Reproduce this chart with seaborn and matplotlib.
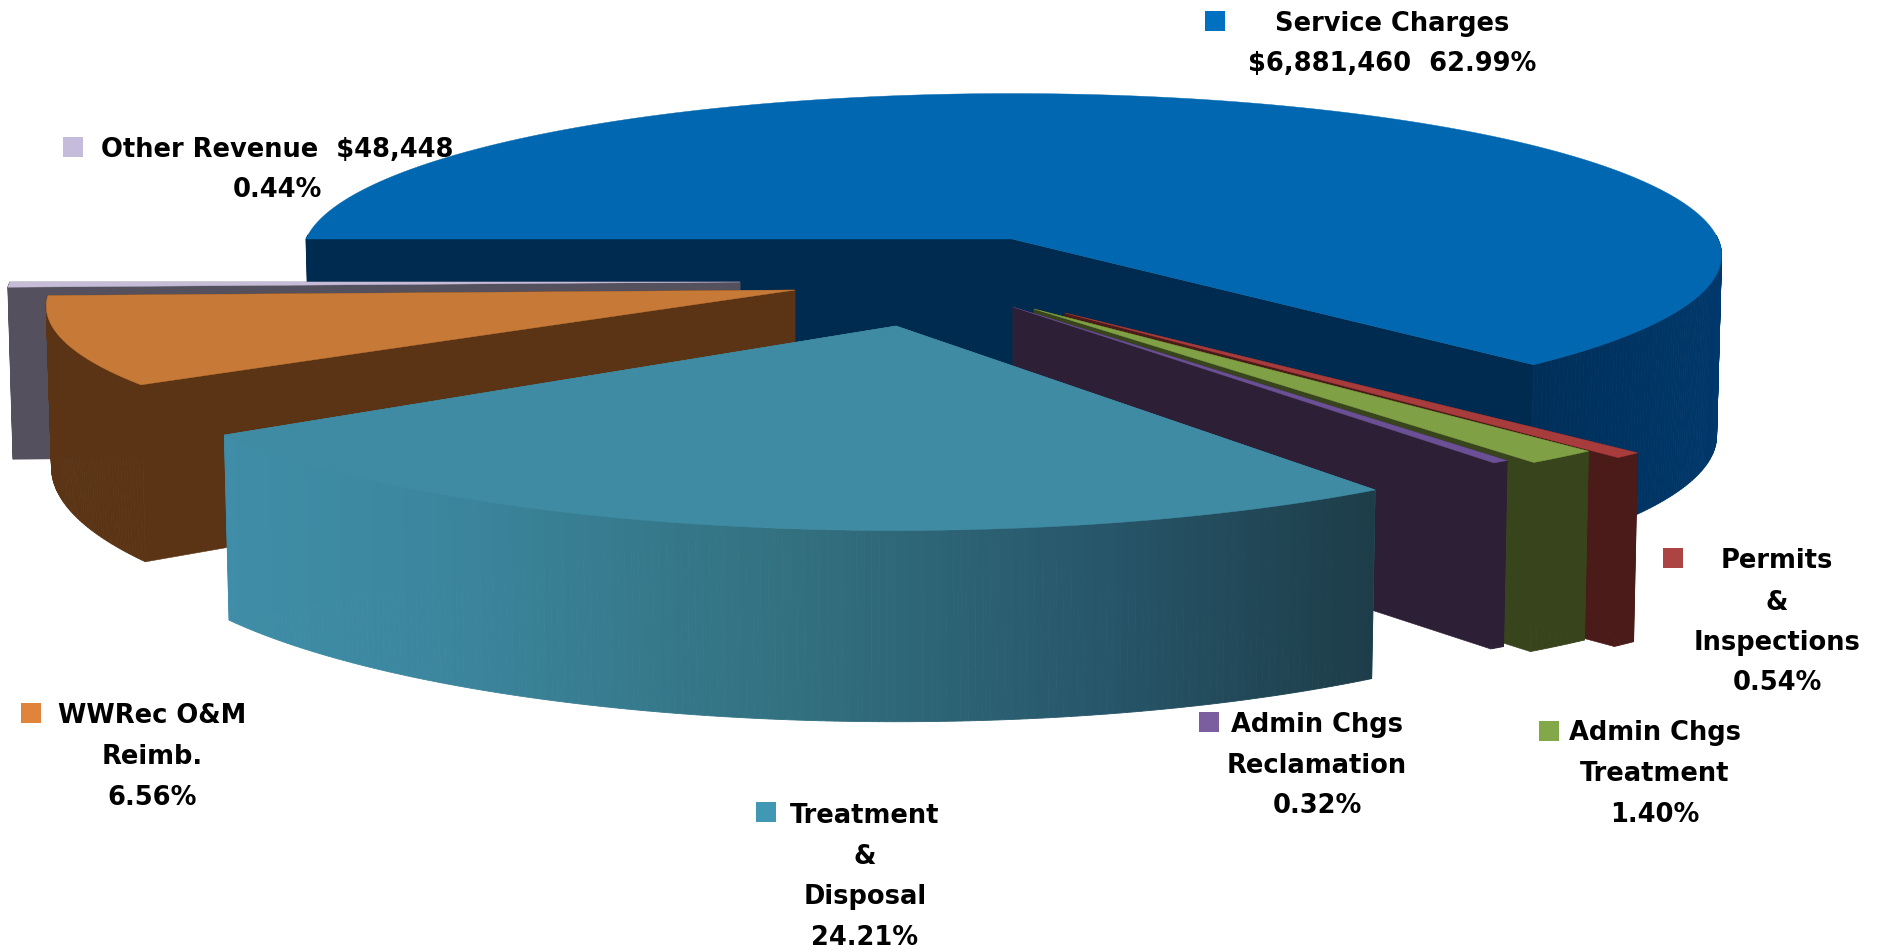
import numpy as np
import pandas as pd
import matplotlib
matplotlib.use("Agg")
import matplotlib.pyplot as plt
from matplotlib.colors import to_rgb
import seaborn as sns

# ---- data -------------------------------------------------------------
categories = ["Service Charges", "Permits & Inspections", "Admin Chgs Treatment",
              "Admin Chgs Reclamation", "Treatment & Disposal", "WWRec O&M Reimb.", "Other Revenue"]
# shares as drawn in the picture (percent of the full circle, clockwise from the left)
slice_shares = [62.99, 0.54, 1.40, 0.32, 25.30, 8.90, 0.55]
label_lines = [
    ["Service Charges", "$6,881,460  62.99%"],
    ["Permits", "&", "Inspections", "0.54%"],
    ["Admin Chgs", "Treatment", "1.40%"],
    ["Admin Chgs", "Reclamation", "0.32%"],
    ["Treatment", "&", "Disposal", "24.21%"],
    ["WWRec O&M", "Reimb.", "6.56%"],
    ["Other Revenue  $48,448", "0.44%"],
]

# ---- style / layout per slice -----------------------------------------
top_colors = ["#0067b0", "#a83c3c", "#7fa044", "#6b5095", "#3f8ba3", "#c77a38", "#c6bcd8"]
wall_colors = ["#002b50", "#4a1b18", "#38441c", "#2d2036", "#3f8da8", "#5a3415", "#55505e"]
swatch_colors = ["#0070c0", "#ac4444", "#82a84a", "#7a5ea0", "#4198b2", "#e0843c", "#c5bcdc"]
apex_x = [1012, 1065, 1034, 1013, 896, 795, 740]
apex_y = [239, 313, 309, 307, 326, 290, 282]
radius_x = [706, 775, 777, 768, 765, 745, 730]
radius_y = [160, 178, 175, 175, 184, 160, 150]
depth = [180, 186, 186, 186, 178, 158, 172]
depth_grow = [1.05, 1.02, 1.02, 1.0, 1.065, 1.2, 1.0]
paint_order = [0, 6, 5, 1, 2, 3, 4]

swatch_x = [1215, 1673, 1549, 1209, 766, 31, 73]
swatch_y = [21, 558, 731, 722, 812, 713, 147]
text_x = [1392, 1777, 1655, 1317, 865, 152, 277]
text_y = [[24, 64], [561, 603, 643, 683], [733, 774, 815], [725, 766, 806],
          [816, 857, 897, 938], [716, 757, 798], [150, 190]]

PERSPECTIVE = 0.10
BOTTOM_SHRINK = 0.993
FONT_SIZE = 18.5

sns.set_theme(style="white")
plt.rcParams["font.family"] = ["DejaVu Sans"]

fig, ax = plt.subplots(figsize=(18.79, 9.51), dpi=100)
fig.subplots_adjust(0, 0, 1, 1)


def project(i, theta, bottom=False):
    X, Y = np.cos(theta), np.sin(theta)
    w = 1 + PERSPECTIVE * Y
    if not bottom:
        return apex_x[i] + radius_x[i] * X / w, apex_y[i] - radius_y[i] * Y / w
    return (apex_x[i] + BOTTOM_SHRINK * radius_x[i] * X / w,
            apex_y[i] + depth[i] - depth_grow[i] * radius_y[i] * Y / w)


def teal_gradient(x):
    stops_x = [220, 420, 800, 1100, 1372]
    stops_c = ["#3f8da8", "#3c879f", "#32707f", "#27566a", "#1d3d49"]
    rgb = np.array([to_rgb(c) for c in stops_c])
    return tuple(np.interp(x, stops_x, rgb[:, k]) for k in range(3))


def blue_gradient(x):
    rgb = np.array([to_rgb("#002b50"), to_rgb("#002b50"), to_rgb("#00386c")])
    return tuple(np.interp(x, [900, 1450, 1725], rgb[:, k]) for k in range(3))


edges = 180 - np.cumsum([0] + slice_shares) * 3.6

for i in paint_order:
    t0, t1 = np.radians(edges[i]), np.radians(edges[i + 1])
    thetas = np.linspace(t0, t1, max(8, int(abs(edges[i] - edges[i + 1]) * 2)))
    fx, fy = project(i, thetas)
    bx, by = project(i, thetas, bottom=True)
    wall = wall_colors[i]
    # radial walls
    for t in (t0, t1):
        x1, y1 = project(i, t)
        x2, y2 = project(i, t, bottom=True)
        ax.fill([apex_x[i], x1, x2, apex_x[i]],
                [apex_y[i], y1, y2, apex_y[i] + depth[i]],
                color=wall, lw=0.4, zorder=1 + paint_order.index(i))
    # outer rim, front part only
    for k in range(len(thetas) - 1):
        if np.sin(thetas[k]) > 0.02 and np.sin(thetas[k + 1]) > 0.02:
            continue
        xm = 0.5 * (fx[k] + fx[k + 1])
        c = teal_gradient(xm) if i == 4 else blue_gradient(xm) if i == 0 else wall
        ax.fill([fx[k], fx[k + 1], bx[k + 1], bx[k]],
                [fy[k], fy[k + 1], by[k + 1], by[k]],
                color=c, lw=0.6, zorder=1 + paint_order.index(i))
    # top face
    ax.fill(np.r_[apex_x[i], fx], np.r_[apex_y[i], fy],
            color=top_colors[i], lw=0.3, zorder=1.5 + paint_order.index(i))

swatches = pd.DataFrame({"category": categories, "x": swatch_x, "y": swatch_y})
sns.scatterplot(data=swatches, x="x", y="y", hue="category", palette=swatch_colors,
                hue_order=categories, marker="s", s=190, linewidth=0, legend=False,
                ax=ax, zorder=20)

for i, lines in enumerate(label_lines):
    for line, y in zip(lines, text_y[i]):
        ax.text(text_x[i], y, line, ha="center", va="center", color="black",
                fontsize=FONT_SIZE, fontweight="bold", zorder=30)

ax.set_xlim(0, 1879)
ax.set_ylim(951, 0)
ax.axis("off")
fig.savefig("out.png", dpi=100, facecolor="white")
